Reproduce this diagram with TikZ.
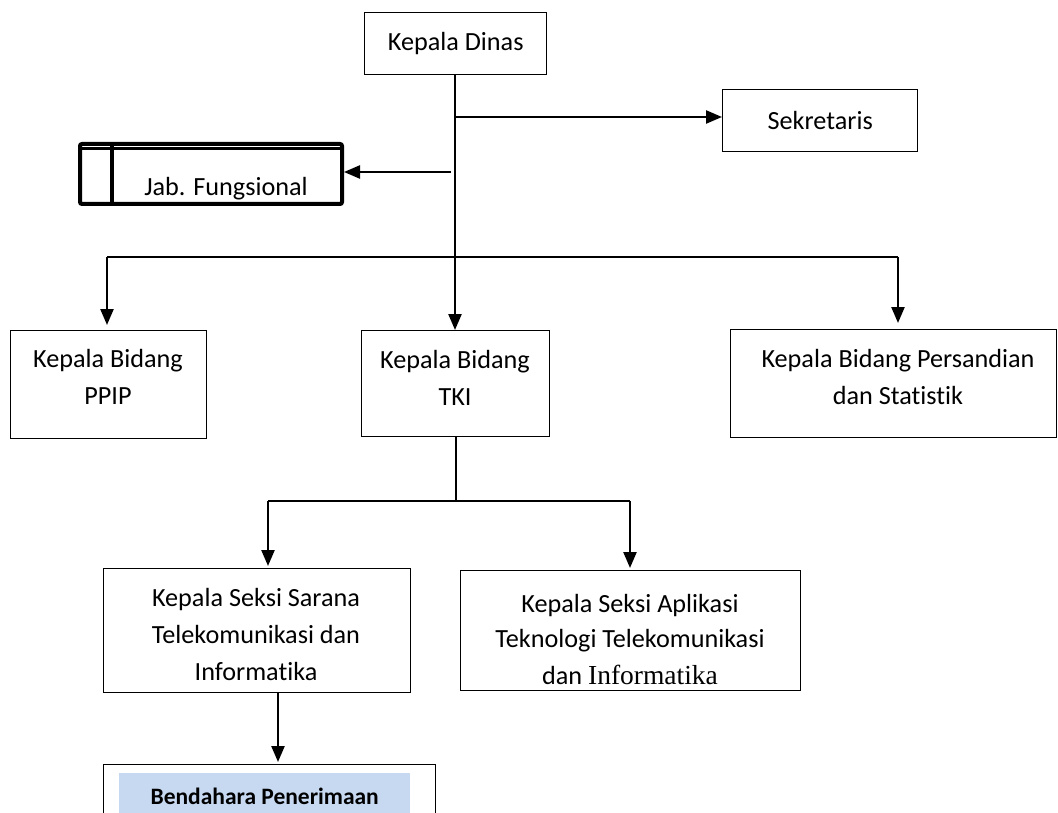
\documentclass[tikz,border=0pt]{standalone}
\usepackage{fontspec}
\setmainfont{Carlito}[Ligatures=NoCommon]
\newfontfamily\serifx{Liberation Serif}
\usetikzlibrary{arrows.meta}
\definecolor{benblue}{HTML}{C6D9F1}
\newcommand\boxfont{\fontsize{26.2}{37}\selectfont}
\begin{document}
\begin{tikzpicture}[x=1pt,y=-1pt,
  box/.style={draw, line width=1.4pt, inner sep=0pt, anchor=north west, font=\boxfont},
  txt/.style={align=center, font=\boxfont, inner sep=0pt},
  arr/.style={line width=2.4pt, -{Triangle[length=16pt,width=13pt]}},
  bus/.style={line width=2.3pt},
  thinline/.style={line width=1.6pt}]
\clip (0,0) rectangle (1058,813);
\fill[white] (0,0) rectangle (1058,813);

% top level
\node[box, minimum width=182pt, minimum height=62pt] (kd) at (364,12) {Kepala Dinas};
\node[box, minimum width=195pt, minimum height=62pt] (sek) at (722,89) {Sekretaris};

% Jab. Fungsional
\node[draw, line width=4pt, rounded corners=2pt, anchor=north west, minimum width=262pt, minimum height=60pt] (jab) at (78,142) {};
\draw[line width=3pt] ([yshift=-7pt]jab.north west) -- ([yshift=-7pt]jab.north east);
\draw[line width=4pt] ([xshift=34pt]jab.north west) -- ([xshift=34pt]jab.south west);
\begin{scope}
  \clip ([shift={(2pt,-2pt)}]jab.north west) rectangle ([shift={(-2pt,2pt)}]jab.south east);
  \node[txt] (jabt) at (226,189) {Jab. Fungsional};
\end{scope}

% second level boxes
\node[box, minimum width=196pt, minimum height=108pt] (ppip) at (10,330) {};
\node[txt] (ppipt) at (108,377) {Kepala Bidang\\PPIP};
\node[box, minimum width=188pt, minimum height=106pt] (tki) at (361,330) {};
\node[txt] (tkit) at (455,378) {Kepala Bidang\\TKI};
\node[box, minimum width=326pt, minimum height=108pt] (pers) at (730,329) {};
\node[txt] (perst) at (898,377) {Kepala Bidang Persandian\\dan Statistik};

% third level boxes
\node[box, minimum width=307pt, minimum height=124pt] (sar) at (103,568) {};
\node[txt] (sart) at (256,634) {Kepala Seksi Sarana\\Telekomunikasi dan\\Informatika};
\node[box, minimum width=340pt, minimum height=120pt] (apl) at (460,570) {};
\begin{scope}
  \clip ([shift={(1pt,-1pt)}]apl.north west) rectangle ([shift={(-1pt,7pt)}]apl.south east);
  \node[txt] (aplt) at (630,640) {Kepala Seksi Aplikasi\\[-2pt]Teknologi Telekomunikasi\\dan {\serifx\fontsize{27.5}{37}\selectfont Informatika}};
\end{scope}

% Bendahara
\node[box, minimum width=332pt, minimum height=70pt] (ben) at (103,764) {};
\node[fill=benblue, anchor=north west, minimum width=291pt, minimum height=46pt, inner sep=0pt,
      font=\fontsize{23.5}{28}\selectfont\bfseries] (bent) at (119,773) {Bendahara Penerimaan};

% connectors
\coordinate (s0) at (455,117);
\coordinate (j0) at (451,172);
\coordinate (t0) at (455,203);
\coordinate (b1) at (107,257);
\coordinate (b2) at (898,257);
\coordinate (c0) at (456,501);
\coordinate (c1) at (268,501);
\coordinate (c2) at (630,501);
\coordinate (d0) at (278,692);

\draw[thinline] (kd.south -| s0) -- (b1 -| s0);
\draw[arr] (s0) -- (sek.west |- s0);
\draw[arr] (j0) -- (jab.east |- j0);
\draw[arr] (t0) -- (tki.north -| t0);
\draw[bus] (b1) -- (b2);
\draw[arr, shorten >=5pt] (b1) -- (b1 |- ppip.north);
\draw[arr, shorten >=6pt] (b2) -- (b2 |- pers.north);
\draw[thinline] (tki.south -| c0) -- (c0);
\draw[bus] (c1) -- (c2);
\draw[arr, shorten >=2pt] (c1) -- (c1 |- sar.north);
\draw[arr, shorten >=2pt] (c2) -- (c2 |- apl.north);
\draw[arr, shorten >=2pt] (d0) -- (d0 |- ben.north);
\end{tikzpicture}
\end{document}
